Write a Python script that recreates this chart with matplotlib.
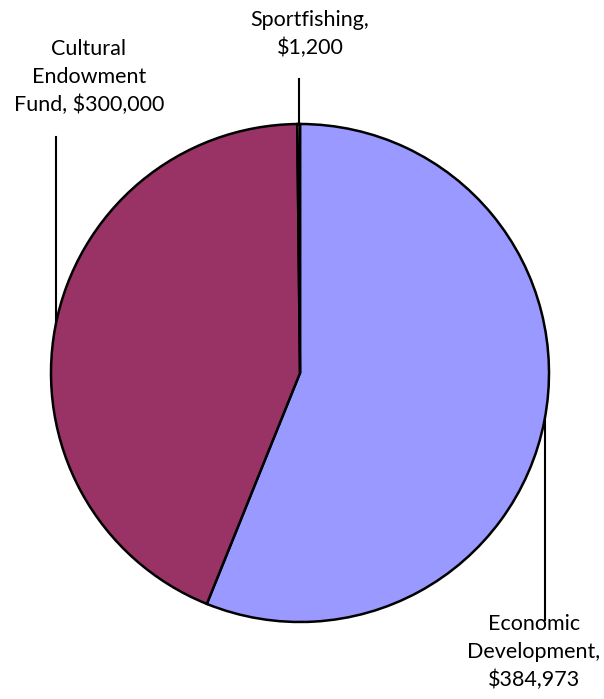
import numpy as np
import matplotlib
matplotlib.use("Agg")
import matplotlib.pyplot as plt

# Grant allocations by program
programs = ["Economic\nDevelopment,", "Cultural\nEndowment\nFund,", "Sportfishing,"]
amounts = [384973, 300000, 1200]
value_on_new_line = [True, False, True]
colors = ["#9999FF", "#993366", "#FFFFCC"]

W, H = 604, 699
CX, CY, R = 300, H - 373, 249

plt.rcParams["font.family"] = ["Lato", "DejaVu Sans"]

fig = plt.figure(figsize=(W / 100, H / 100), dpi=100)
ax = fig.add_axes([0, 0, 1, 1])
ax.set_xlim(0, W)
ax.set_ylim(0, H)
ax.set_aspect("equal")
ax.axis("off")

ax.pie(amounts, colors=colors, center=(CX, CY), radius=R,
       startangle=90, counterclock=False,
       wedgeprops=dict(edgecolor="black", linewidth=1.8))
ax.set_xlim(0, W)
ax.set_ylim(0, H)

# label anchor (x, y in pixels from top), leader line x and its far end
layout = [
    dict(xy=(534, 652), lx=545, ly=620, side=-1),
    dict(xy=(89, 77), lx=56, ly=137, side=1),
    dict(xy=(310, 34), lx=299, ly=79, side=1),
]

for name, value, newline, lay in zip(programs, amounts, value_on_new_line, layout):
    x, y = lay["xy"]
    sep = "\n" if newline else " "
    ax.text(x, H - y, f"{name}{sep}${value:,}", ha="center", va="center",
            multialignment="center", fontsize=15.5, linespacing=1.5,
            color="black")
    # vertical leader from label to the pie edge
    dx = lay["lx"] - CX
    edge = np.sqrt(R ** 2 - dx ** 2)
    y_edge = CY + lay["side"] * edge
    ax.plot([lay["lx"], lay["lx"]], [H - lay["ly"], y_edge],
            color="black", linewidth=1.5)

fig.savefig("out.png", dpi=100)
